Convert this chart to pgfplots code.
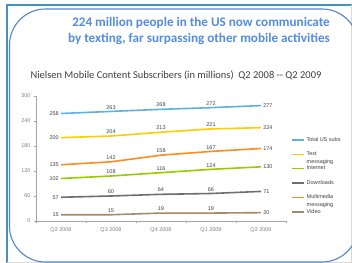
\documentclass[border=0pt]{standalone}
\usepackage{fontspec}
\setmainfont{Liberation Sans}
\newfontfamily\calibri{Carlito}
\usepackage{pgfplots}
\pgfplotsset{compat=1.18}
\pgfplotsset{/pgf/number format/assume math mode=true}
\definecolor{ctotal}{RGB}{91,179,222}
\definecolor{ctext}{RGB}{255,204,0}
\definecolor{cmms}{RGB}{255,140,30}
\definecolor{cnet}{RGB}{153,204,0}
\definecolor{cdown}{RGB}{110,110,110}
\definecolor{cvideo}{RGB}{166,138,108}
\definecolor{ctitle}{RGB}{84,141,222}
\definecolor{cframe}{RGB}{70,145,190}
\definecolor{cround}{RGB}{80,134,204}
\definecolor{caxis}{RGB}{165,165,165}
\definecolor{clab}{RGB}{64,64,64}
\definecolor{ctick}{RGB}{128,128,128}
\begin{document}
\begin{tikzpicture}[x=1bp,y=1bp]
\useasboundingbox (0,0) rectangle (352,263);
\begin{scope}
\clip (0,0) rectangle (352,263);
\fill[white] (0,0) rectangle (352,263);
\draw[cframe, line width=1.5bp] (7,0) -- (7,258) -- (353,258);
\draw[gray!30, line width=0.6bp] (351.5,258) -- (351.5,0.5) -- (7,0.5);
\draw[cround, line width=1.1bp, rounded corners=36bp] (9.5,254) rectangle (358,1);
\end{scope}
\node[font=\calibri\bfseries\fontsize{13.2}{15}\selectfont, text=ctitle, anchor=base] at (201,237) {224 million people in the US now communicate};
\node[font=\calibri\bfseries\fontsize{13.2}{15}\selectfont, text=ctitle, anchor=base] at (199,221) {by texting, far surpassing other mobile activities};
\node[font=\calibri\fontsize{10.5}{12}\selectfont, text=clab, anchor=base] at (176,185) {Nielsen Mobile Content Subscribers (in millions)\ \ Q2 2008 -- Q2 2009};
\begin{axis}[
  at={(36bp,42bp)}, anchor=south west,
  scale only axis, width=250bp, height=125bp,
  xmin=-0.5, xmax=4.5, ymin=0, ymax=300,
  axis x line*=bottom, axis y line*=left,
  axis line style={draw=caxis, line width=0.6bp, -},
  ytick={0,60,...,300},
  xtick={0,...,4},
  xticklabels={Q2 2008,Q3 2008,Q4 2008,Q1 2009,Q2 2009},
  minor xtick={-0.5,0.5,1.5,2.5,3.5,4.5},
  major x tick style={draw=none},
  tick align=outside,
  major tick length=2bp, minor tick length=2bp,
  tick style={draw=caxis, line width=0.5bp},
  ticklabel style={font=\fontsize{5.5}{6}\selectfont, text=ctick},
  xticklabel style={yshift=-1bp},
  every axis plot/.append style={line width=1.6bp, mark=none},
  nodes near coords,
  every node near coord/.append style={font=\fontsize{5.5}{6}\selectfont, text=clab, inner sep=1.5bp},
  coordinate style/.condition={x==0}{anchor=east, inner sep=1bp},
  coordinate style/.condition={x==4}{anchor=west, inner sep=1bp},
  legend cell align=left,
  legend style={at={(1.02,0.676)}, anchor=north west, draw=none, fill=none, inner sep=0pt,
    font=\fontsize{5.5}{8}\selectfont, text=clab, row sep=7.9bp, column sep=1.5bp,
    nodes={inner sep=0.5bp, text height=4bp, text depth=1.5bp}},
  legend image code/.code={\draw[#1, line width=1.5bp] (0bp,0bp) -- (12bp,0bp);},
]
\addplot[ctotal] coordinates {(0,258) (1,263) (2,268) (3,272) (4,277)};
\addlegendentry{Total US subs}
\addplot[ctext] coordinates {(0,200) (1,204) (2,213) (3,221) (4,224)};
\addlegendentry{\begin{tabular}[t]{@{}l@{}}Text\\messaging\end{tabular}}
\addplot[cnet] coordinates {(0,102) (1,108) (2,116) (3,124) (4,130)};
\addlegendentry{Internet}
\addplot[cdown] coordinates {(0,57) (1,60) (2,64) (3,66) (4,71)};
\addlegendentry{Downloads}
\addplot[cmms] coordinates {(0,135) (1,142) (2,158) (3,167) (4,174)};
\addlegendentry{\begin{tabular}[t]{@{}l@{}}Multimedia\\messaging\end{tabular}}
\addplot[cvideo] coordinates {(0,15) (1,15) (2,19) (3,19) (4,20)};
\addlegendentry{Video}
\end{axis}
\end{tikzpicture}
\end{document}
